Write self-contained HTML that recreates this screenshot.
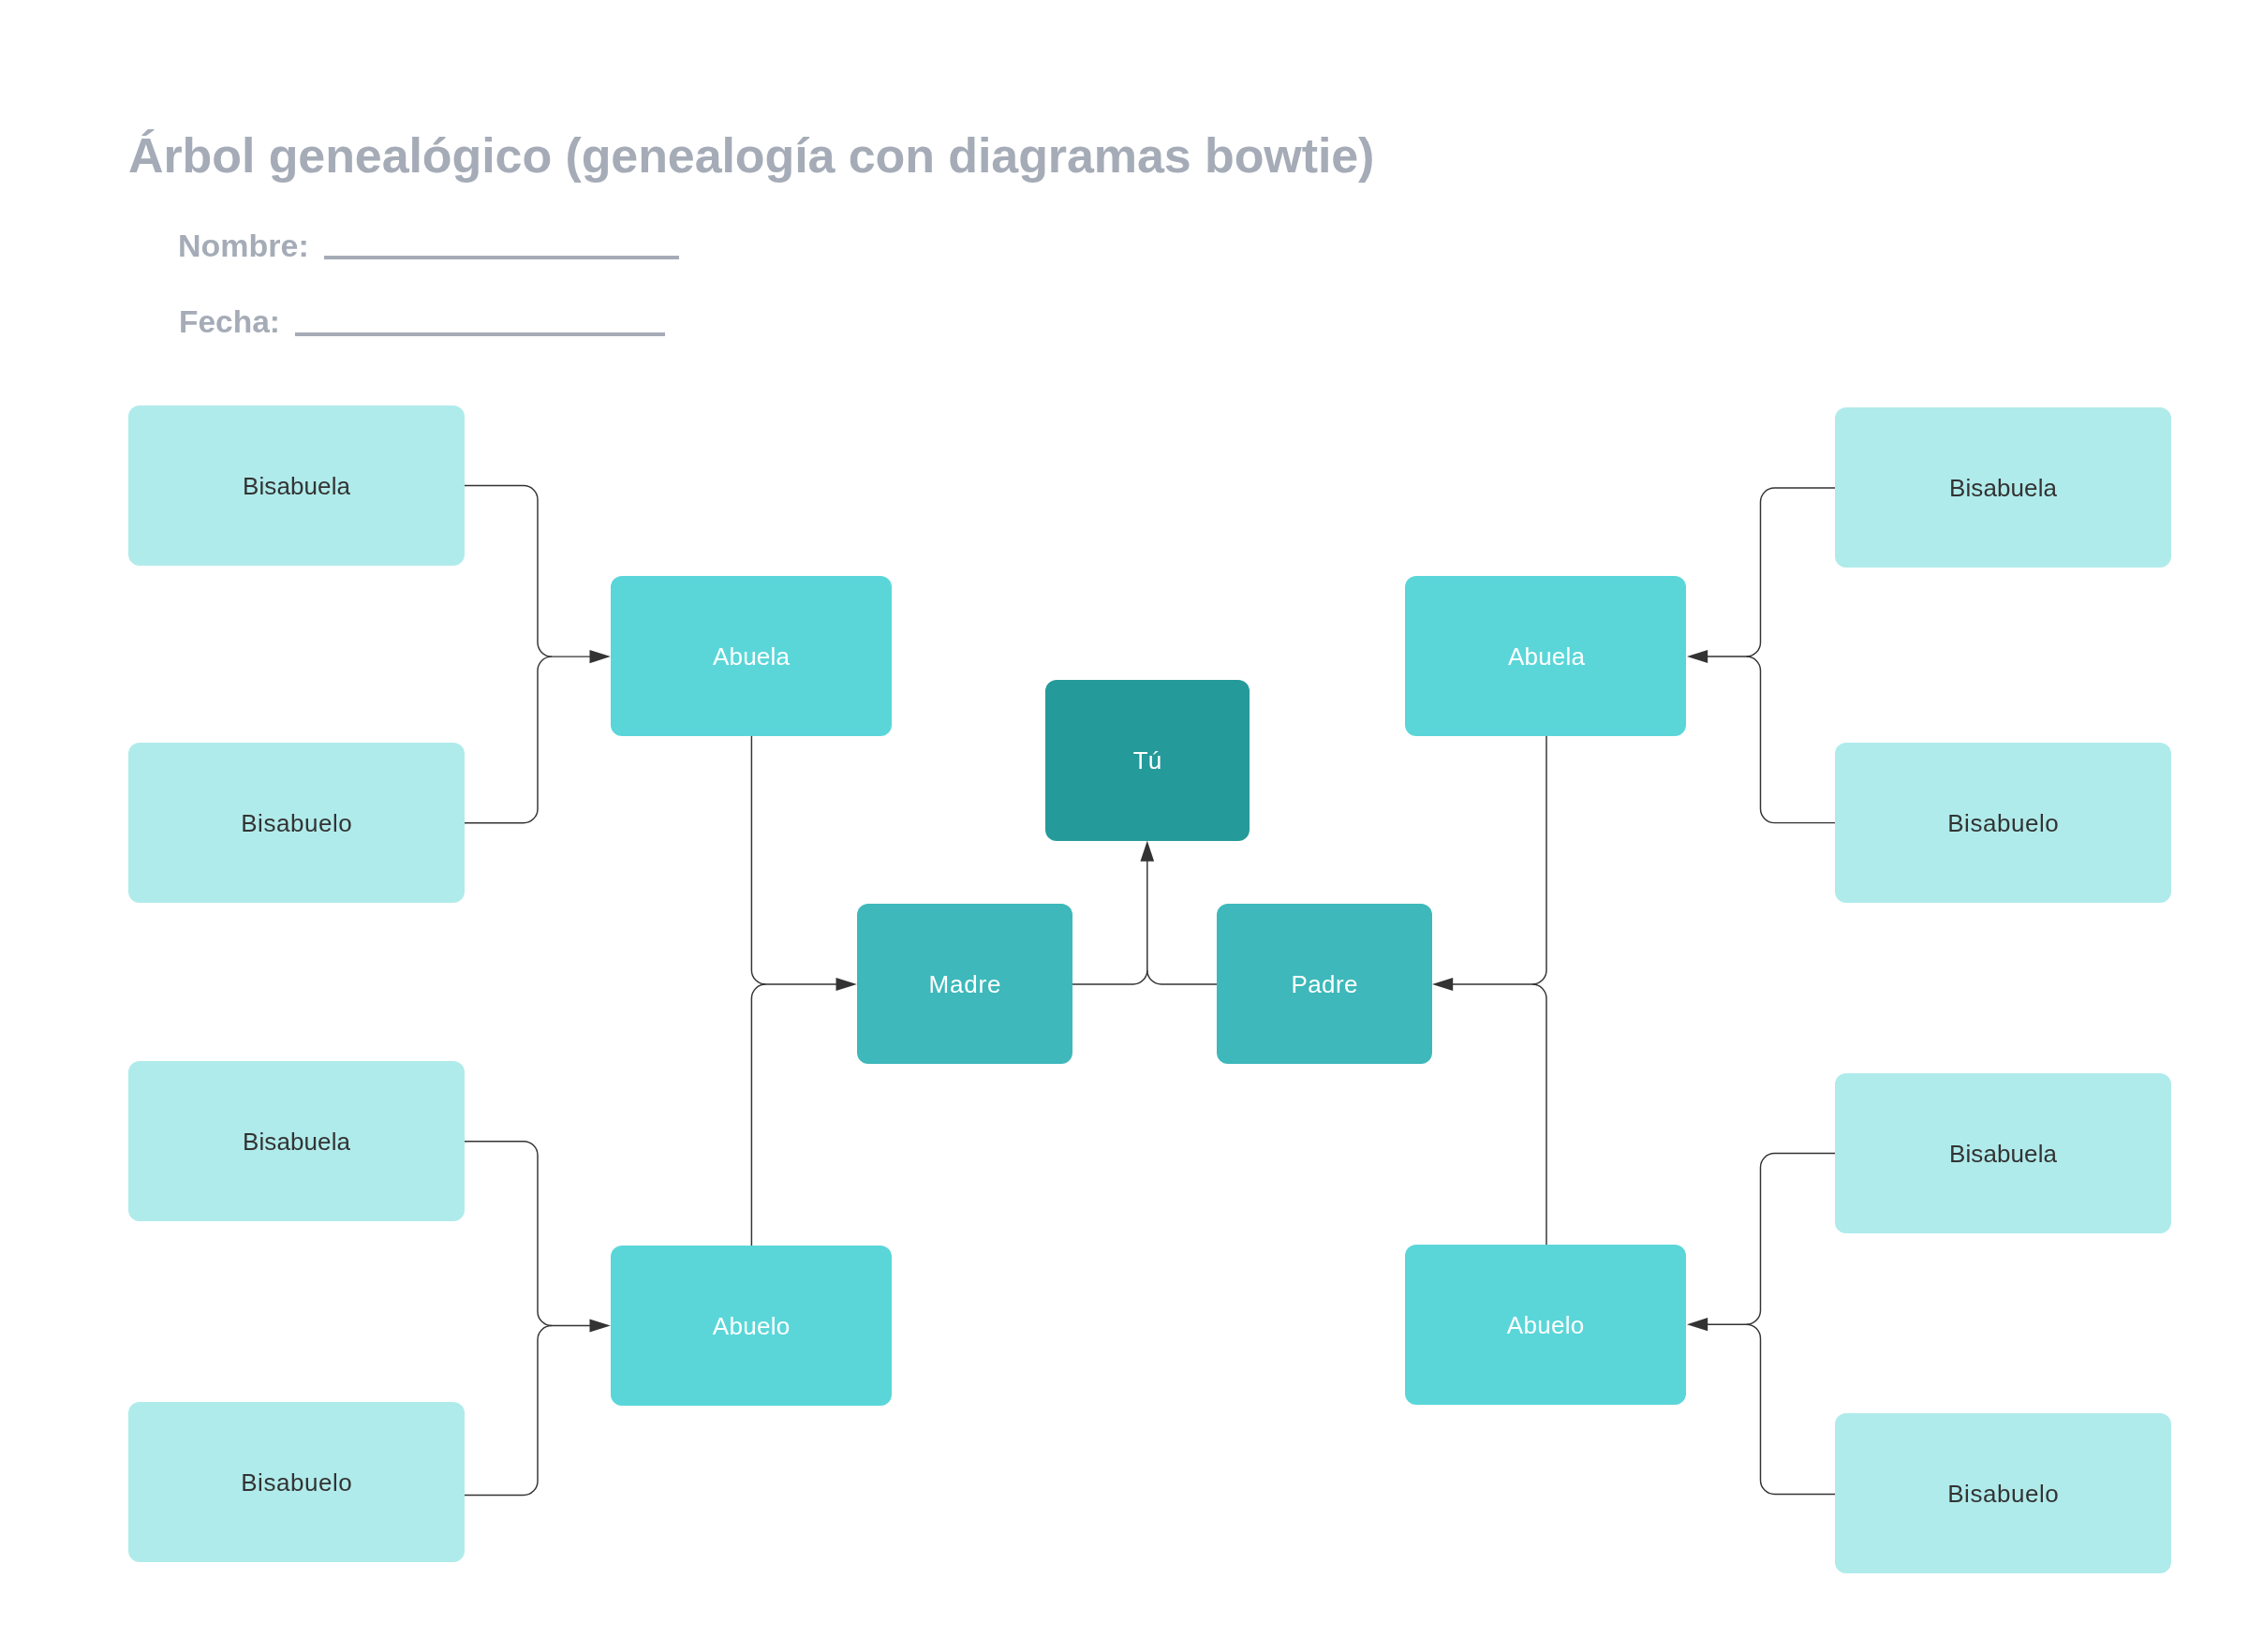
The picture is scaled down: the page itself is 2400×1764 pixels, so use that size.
<!DOCTYPE html>
<html>
<head>
<meta charset="utf-8">
<style>
html,body{margin:0;padding:0;background:#ffffff;}
body{width:2400px;height:1764px;position:relative;overflow:hidden;font-family:"Liberation Sans",sans-serif;}
.t{position:absolute;white-space:nowrap;color:#a5acb7;font-weight:700;line-height:1;}
.ul{position:absolute;background:#a5acb7;}
.b{position:absolute;border-radius:12px;display:flex;align-items:center;justify-content:center;font-size:26px;line-height:1;}
.l1{background:#b0ebeb;color:#333333;}
.l2{background:#5ad6d9;color:#ffffff;}
.l3{background:#3eb8ba;color:#ffffff;}
.l4{background:#259a9a;color:#ffffff;}
svg{position:absolute;left:0;top:0;}
.b,.t{will-change:transform;}
</style>
</head>
<body>
<div class="t" style="left:137px;top:139.5px;font-size:52px;letter-spacing:-0.09px;">Árbol genealógico (genealogía con diagramas bowtie)</div>
<div class="t" style="left:190px;top:245px;font-size:34px;">Nombre:</div>
<div class="ul" style="left:346px;top:273px;width:379px;height:3.7px;"></div>
<div class="t" style="left:190.5px;top:327px;font-size:33.5px;">Fecha:</div>
<div class="ul" style="left:315px;top:355px;width:394.5px;height:3.8px;"></div>

<div class="b l1" style="left:137px;top:433px;width:359px;height:171px;letter-spacing:0.1px;padding-left:0.1px;box-sizing:border-box;">Bisabuela</div>
<div class="b l1" style="left:137px;top:793px;width:359px;height:171px;letter-spacing:0.55px;padding-left:0.55px;box-sizing:border-box;">Bisabuelo</div>
<div class="b l1" style="left:137px;top:1133px;width:359px;height:171px;letter-spacing:0.1px;padding-left:0.1px;box-sizing:border-box;">Bisabuela</div>
<div class="b l1" style="left:137px;top:1497px;width:359px;height:171px;letter-spacing:0.55px;padding-left:0.55px;box-sizing:border-box;">Bisabuelo</div>

<div class="b l2" style="left:652px;top:615px;width:300px;height:171px;letter-spacing:0.2px;padding-left:0.2px;box-sizing:border-box;">Abuela</div>
<div class="b l2" style="left:652px;top:1330px;width:300px;height:171px;letter-spacing:0.3px;padding-left:0.3px;box-sizing:border-box;">Abuelo</div>

<div class="b l3" style="left:915px;top:965px;width:230px;height:171px;letter-spacing:0.8px;padding-left:0.8px;box-sizing:border-box;">Madre</div>
<div class="b l4" style="left:1116px;top:726px;width:218px;height:172px;">Tú</div>
<div class="b l3" style="left:1299px;top:965px;width:230px;height:171px;letter-spacing:0.42px;padding-left:0.42px;box-sizing:border-box;">Padre</div>

<div class="b l2" style="left:1500px;top:615px;width:300px;height:171px;letter-spacing:0.2px;padding-left:2.2px;box-sizing:border-box;">Abuela</div>
<div class="b l2" style="left:1500px;top:1329px;width:300px;height:171px;letter-spacing:0.3px;padding-left:0.3px;box-sizing:border-box;">Abuelo</div>

<div class="b l1" style="left:1959px;top:435px;width:359px;height:171px;letter-spacing:0.1px;padding-left:0.1px;box-sizing:border-box;">Bisabuela</div>
<div class="b l1" style="left:1959px;top:793px;width:359px;height:171px;letter-spacing:0.55px;padding-left:0.55px;box-sizing:border-box;">Bisabuelo</div>
<div class="b l1" style="left:1959px;top:1146px;width:359px;height:171px;letter-spacing:0.1px;padding-left:0.1px;box-sizing:border-box;">Bisabuela</div>
<div class="b l1" style="left:1959px;top:1509px;width:359px;height:171px;letter-spacing:0.55px;padding-left:0.55px;box-sizing:border-box;">Bisabuelo</div>

<svg width="2400" height="1764" viewBox="0 0 2400 1764">
<g fill="none" stroke="#333333" stroke-width="1.45">
<!-- left top bracket -->
<path d="M496 518.5 H559 A15 15 0 0 1 574 533.5 V686.1 A15 15 0 0 0 589 701.1 H631"/>
<path d="M496 878.7 H559 A15 15 0 0 0 574 863.7 V716.1 A15 15 0 0 1 589 701.1"/>
<!-- left bottom bracket -->
<path d="M496 1218.7 H559 A15 15 0 0 1 574 1233.7 V1400.5 A15 15 0 0 0 589 1415.5 H631"/>
<path d="M496 1596.5 H559 A15 15 0 0 0 574 1581.5 V1430.5 A15 15 0 0 1 589 1415.5"/>
<!-- center left -->
<path d="M802.4 786 V1036 A15 15 0 0 0 817.4 1051 H894"/>
<path d="M802.4 1330 V1066 A15 15 0 0 1 817.4 1051"/>
<!-- center -->
<path d="M1145 1051 H1209.8 A15 15 0 0 0 1224.8 1036 V919"/>
<path d="M1299 1051 H1239.8 A15 15 0 0 1 1224.8 1036"/>
<!-- center right -->
<path d="M1651 786 V1036 A15 15 0 0 1 1636 1051 H1550"/>
<path d="M1651 1329 V1066 A15 15 0 0 0 1636 1051"/>
<!-- right top bracket -->
<path d="M1959 521 H1894.5 A15 15 0 0 0 1879.5 536 V686 A15 15 0 0 1 1864.5 701 H1822"/>
<path d="M1959 878.6 H1894.5 A15 15 0 0 1 1879.5 863.6 V716 A15 15 0 0 0 1864.5 701"/>
<!-- right bottom bracket -->
<path d="M1959 1231.5 H1894.5 A15 15 0 0 0 1879.5 1246.5 V1399.2 A15 15 0 0 1 1864.5 1414.2 H1822"/>
<path d="M1959 1595.4 H1894.5 A15 15 0 0 1 1879.5 1580.4 V1429.2 A15 15 0 0 0 1864.5 1414.2"/>
</g>
<g fill="#333333">
<polygon points="629.5,694 651.8,701.1 629.5,708.2"/>
<polygon points="629.5,1408.4 651.8,1415.5 629.5,1422.6"/>
<polygon points="892.5,1043.9 914.8,1051 892.5,1058.1"/>
<polygon points="1217.45,919.8 1224.8,897.7 1232.15,919.8"/>
<polygon points="1551.2,1043.9 1529,1051 1551.2,1058.1"/>
<polygon points="1823.2,693.9 1801,701 1823.2,708.1"/>
<polygon points="1823.2,1407.1 1801,1414.2 1823.2,1421.3"/>
</g>
</svg>
</body>
</html>
